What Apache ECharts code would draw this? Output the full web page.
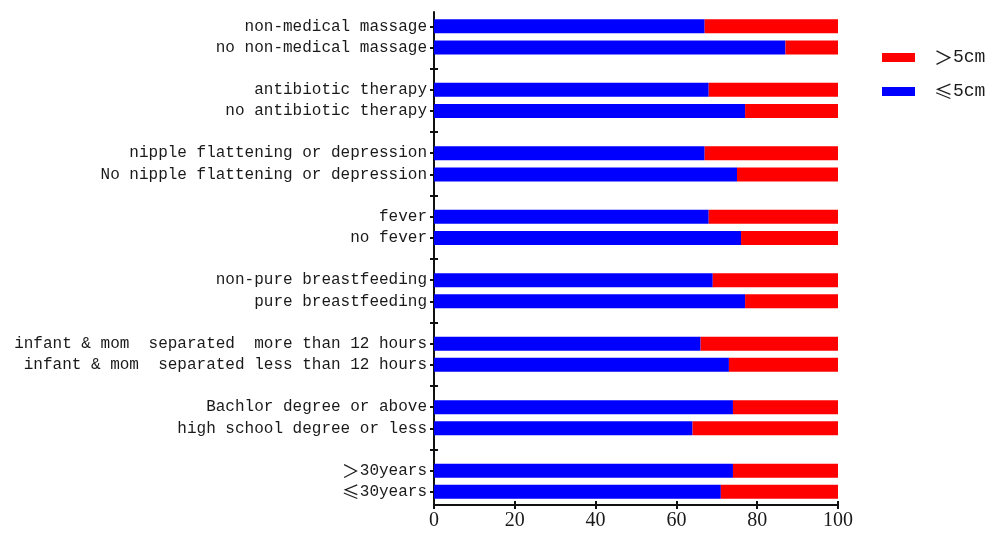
<!DOCTYPE html>
<html>
<head>
<meta charset="utf-8">
<script src="https://cdn.jsdelivr.net/npm/echarts@6/dist/echarts.min.js"></script>
<style>html,body{margin:0;padding:0;background:#fff}#c{width:991px;height:536px}</style>
</head>
<body>
<div id="c"></div>
<script>
const categories = [
  "non-medical massage",
  "no non-medical massage",
  "antibiotic therapy",
  "no antibiotic therapy",
  "nipple flattening or depression",
  "No nipple flattening or depression",
  "fever",
  "no fever",
  "non-pure breastfeeding",
  "pure breastfeeding",
  "infant & mom  separated  more than 12 hours",
  "infant & mom  separated less than 12 hours",
  "Bachlor degree or above",
  "high school degree or less",
  "＞30years",
  "≤30years"
];
const le5cm = [67, 87, 68, 77, 67, 75, 68, 76, 69, 77, 66, 73, 74, 64, 74, 71];
const gt5cm = [33, 13, 32, 23, 33, 25, 32, 24, 31, 23, 34, 27, 26, 36, 26, 29];
const xTicks = [0, 20, 40, 60, 80, 100];
const seriesNames = ["≤5cm", "＞5cm"];

// build slots with an empty slot between each pair of groups
const slots = [], blue = [], red = [];
categories.forEach((c, i) => {
  slots.push(c); blue.push(le5cm[i]); red.push(gt5cm[i]);
  if (i % 2 === 1 && i < categories.length - 1) { slots.push(""); blue.push("-"); red.push("-"); }
});

const font = "'Liberation Mono','Noto Sans CJK SC',monospace";
const cjk = "'Noto Sans CJK SC'";
const axisColor = "#111";
const wrapSym = s => s.replace(/([≤＞])/g, '{s|$1}');
const chart = echarts.init(document.getElementById('c'), null, {renderer: 'canvas'});
chart.setOption({
  animation: false,
  backgroundColor: '#fff',
  legend: {
    data: [seriesNames[1], seriesNames[0]],
    orient: 'vertical',
    left: 882, top: 48, padding: 0,
    itemWidth: 33, itemHeight: 9, itemGap: 15,
    icon: 'rect',
    formatter: n => '{p|}' + wrapSym(n),
    textStyle: {fontFamily: font, fontSize: 18, color: '#1a1a1a',
      rich: {p: {width: 14}, s: {fontFamily: cjk, fontSize: 19, color: '#1a1a1a'}}}
  },
  grid: [
    {left: 434, right: 153, top: 15.7, bottom: 33.6},
    {left: 434, right: 153, top: 12, bottom: 31}
  ],
  xAxis: [
    {type: 'value', gridIndex: 0, min: 0, max: 100, show: false},
    {type: 'value', gridIndex: 1, min: xTicks[0], max: xTicks[xTicks.length - 1], interval: 20,
     axisLine: {show: true, lineStyle: {color: axisColor, width: 2}},
     axisTick: {show: true, length: 4, lineStyle: {color: axisColor, width: 2}},
     axisLabel: {fontFamily: "'Liberation Serif',serif", fontSize: 20, color: '#1a1a1a', margin: 6},
     splitLine: {show: false}},
    {type: 'value', gridIndex: 1, min: 0, max: 100, interval: 20, position: 'bottom',
     axisLine: {show: false},
     axisTick: {show: true, inside: true, length: 4, lineStyle: {color: axisColor, width: 2}},
     axisLabel: {show: false}, splitLine: {show: false}}
  ],
  yAxis: [
    {type: 'category', gridIndex: 0, data: slots, inverse: true,
     axisLine: {show: false},
     axisTick: {show: true, interval: 0, alignWithLabel: true, length: 4, lineStyle: {color: axisColor, width: 2}},
     axisLabel: {interval: 0, fontFamily: font, fontSize: 16, color: '#1a1a1a', margin: 7,
       formatter: v => wrapSym(v),
       rich: {s: {fontFamily: cjk, fontSize: 18, color: '#1a1a1a'}}}},
    {type: 'category', gridIndex: 0, data: slots, inverse: true, position: 'left',
     axisLine: {show: false},
     axisTick: {show: true, inside: true, interval: 0, alignWithLabel: true, length: 4, lineStyle: {color: axisColor, width: 2}},
     axisLabel: {show: false}},
    {type: 'value', gridIndex: 1, min: 0, max: 1,
     axisLine: {show: true, lineStyle: {color: axisColor, width: 2}},
     axisTick: {show: false}, axisLabel: {show: false}, splitLine: {show: false}}
  ],
  series: [
    {name: seriesNames[0], type: 'bar', stack: 'a', xAxisIndex: 0, yAxisIndex: 0, data: blue,
     barWidth: 14, itemStyle: {color: '#0000ff'}},
    {name: seriesNames[1], type: 'bar', stack: 'a', xAxisIndex: 0, yAxisIndex: 0, data: red,
     barWidth: 14, itemStyle: {color: '#ff0000'}}
  ]
});
</script>
</body>
</html>
